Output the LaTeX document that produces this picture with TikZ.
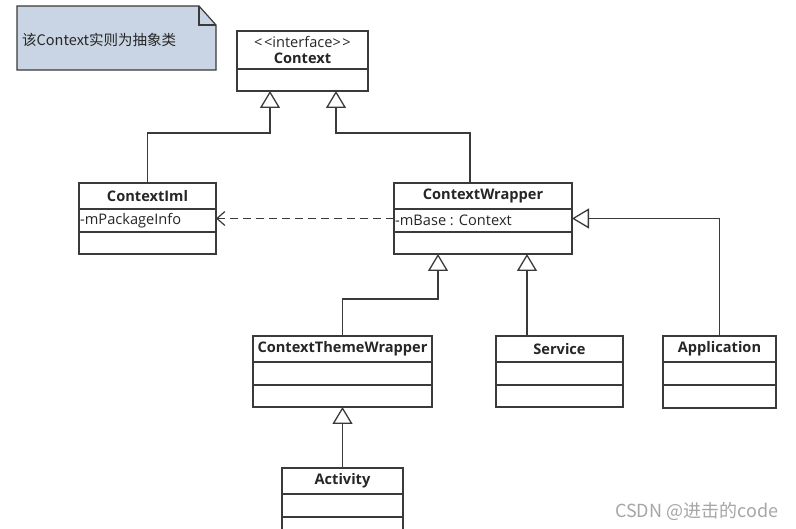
\documentclass[tikz,border=0pt]{standalone}
\usepackage{fontspec}
\setmainfont{Open Sans}
\newfontfamily\cjkfont{Noto Sans CJK SC}
\usetikzlibrary{arrows.meta}
\definecolor{ink}{HTML}{3A3A3A}
\definecolor{notefill}{HTML}{C9D5E4}
\newcommand\classbox[6]{%
  \node[cls, minimum width=#4pt, minimum height=#5pt] (#1) at (#2,#3) {};
  \node[ttl] (#1-t) at ([yshift=-13pt]#1.north) {#6};
  \draw[div] ([yshift=-26pt]#1.north west) -- ([yshift=-26pt]#1.north east);
  \draw[div] ([yshift=-49pt]#1.north west) -- ([yshift=-49pt]#1.north east);
}
\begin{document}
\begin{tikzpicture}[x=1pt,y=-1pt,
  cls/.style={draw=ink, line width=1.3pt, fill=white, inner sep=0pt, outer sep=0pt, anchor=north west},
  ttl/.style={font=\bfseries\fontsize{14.6}{16}\selectfont, text=black!85, inner sep=0pt},
  attr/.style={font=\fontsize{14.6}{16}\selectfont, text=black!85, inner sep=0pt, anchor=west},
  div/.style={draw=ink, line width=1.3pt},
  gen/.style={draw=ink, line width=1.3pt, -{Triangle[length=17pt,width=20pt,fill=white]}},
  dep/.style={draw=ink, line width=1.2pt, dash pattern=on 8pt off 5pt, -{Straight Barb[length=8pt,width=14pt]}}]
\clip (0,0) rectangle (796,529);
\fill[white] (0,0) rectangle (796,529);

% note
\filldraw[fill=notefill, draw=ink, line width=1.2pt] (17,6) -- (199,6) -- (216,25) -- (216,70) -- (17,70) -- cycle;
\draw[ink, line width=1.2pt] (199,6) -- (199,25) -- (216,25);
\node[font=\cjkfont\fontsize{14.5}{16}\selectfont, text=black!85, anchor=west, inner sep=0pt] (notetext) at (22,40) {该Context实则为抽象类};

% Context interface
\node[cls, minimum width=131pt, minimum height=60pt] (ctx) at (237,31) {};
\node[attr, anchor=center] (ctx-s) at (302.5,42) {<\kern1.5pt<interface>\kern1.5pt>};
\node[ttl] (ctx-t) at (302.5,58) {Context};
\draw[div] ([yshift=-38pt]ctx.north west) -- ([yshift=-38pt]ctx.north east);

% classes
\classbox{ctximl}{79}{183}{137}{71}{ContextIml}
\node[attr] (ctximl-a) at ([xshift=1pt,yshift=-37.5pt]ctximl.north west) {-mPackageInfo};
\classbox{cw}{394}{183}{178}{71}{ContextWrapper}
\node[attr] (cw-a) at ([xshift=1pt,yshift=-37.5pt]cw.north west) {-mBase : Context};
\classbox{ctw}{253}{336}{179}{71}{ContextThemeWrapper}
\classbox{svc}{496}{336}{127}{71}{Service}
\classbox{app}{663}{336}{113}{72}{Application}
\classbox{act}{282}{468}{121}{80}{Activity}

% connectors
\draw[gen] (ctximl.north) |- ([xshift=33pt,yshift=-42pt]ctx.south west) -- ([xshift=33pt]ctx.south west);
\draw[gen] ([xshift=76pt]cw.north west) |- ([xshift=99pt,yshift=-42pt]ctx.south west) -- ([xshift=99pt]ctx.south west);
\draw[gen] (ctw.north) |- ([xshift=44pt,yshift=-45pt]cw.south west) -- ([xshift=44pt]cw.south west);
\draw[gen] ([xshift=31pt]svc.north west) -- ([xshift=133pt]cw.south west);
\draw[gen] (app.north) |- (cw.east);
\draw[gen] (act.north) -- (ctw.south);
\draw[dep] (cw.west) -- (ctximl.east);

% watermark
\node[font=\cjkfont\fontsize{18}{20}\selectfont, text=gray!70, anchor=west, inner sep=0pt] (wm) at (615,511) {CSDN @进击的code};
\end{tikzpicture}
\end{document}
